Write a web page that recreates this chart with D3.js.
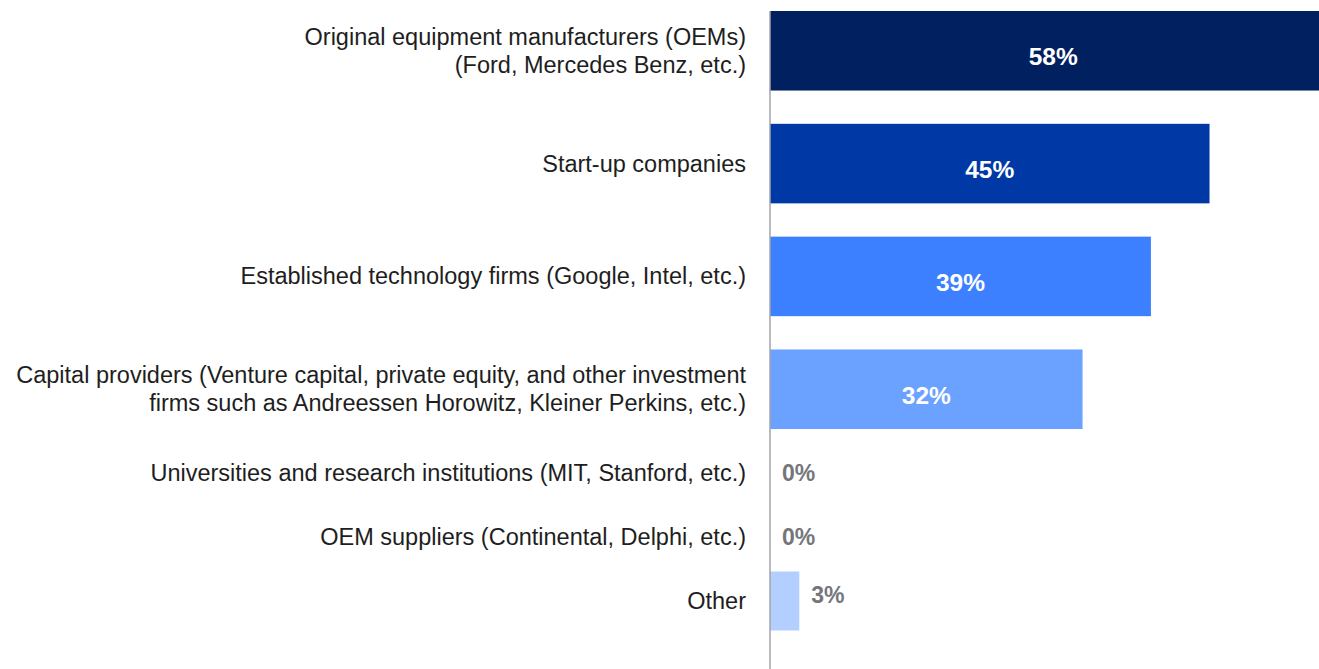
<!DOCTYPE html>
<html>
<head>
<meta charset="utf-8">
<script src="https://cdn.jsdelivr.net/npm/d3@7"></script>
<style>
  html, body { margin: 0; padding: 0; background: #ffffff; overflow: hidden; }
  svg { display: block; }
</style>
</head>
<body>
<svg id="chart" width="1319" height="669"></svg>
<script>
// Who will lead the development of autonomous vehicles? (share of respondents)
const majorCategories = [
  "Original equipment manufacturers (OEMs)\n(Ford, Mercedes Benz, etc.)",
  "Start-up companies",
  "Established technology firms (Google, Intel, etc.)",
  "Capital providers (Venture capital, private equity, and other investment\nfirms such as Andreessen Horowitz, Kleiner Perkins, etc.)"
];
const minorCategories = [
  "Universities and research institutions (MIT, Stanford, etc.)",
  "OEM suppliers (Continental, Delphi, etc.)",
  "Other"
];
const majorValues = [58, 45, 39, 32];
const minorValues = [0, 0, 3];

const barColors = ["#012060", "#0039a5", "#3d80ff", "#6ba1ff", "#b3cfff", "#b3cfff", "#b3cfff"];

const width = 1319, height = 669;
const svg = d3.select("#chart");

const categories = majorCategories.concat(minorCategories);
const values = majorValues.concat(minorValues);
const rows = categories.map((c, i) => ({ category: c, value: values[i], major: i < majorCategories.length }));

const color = d3.scaleOrdinal().domain(categories).range(barColors);

// Horizontal value scale; the axis sits at x(0)
const x = d3.scaleLinear().domain([0, 58]).range([770, 1336.5]);

// Large rows for the leading answers, compact rows for the rest
const yMajor = d3.scaleBand().domain(majorCategories).range([11, 429]).paddingInner(0.295).paddingOuter(0);
const yMinor = d3.scaleBand().domain(minorCategories).range([444, 630.5]).paddingInner(0.075).paddingOuter(0);
const yScale = d => d.major ? yMajor : yMinor;
const bandTop = d => yScale(d)(d.category);
const bandH = d => yScale(d).bandwidth();
const bandMid = d => bandTop(d) + bandH(d) / 2;

const FONT = "'Liberation Sans', Arial, Helvetica, sans-serif";

// Bars
svg.append("g")
  .selectAll("rect")
  .data(rows.filter(d => d.value > 0))
  .join("rect")
  .attr("x", x(0))
  .attr("y", bandTop)
  .attr("width", d => x(d.value) - x(0))
  .attr("height", bandH)
  .attr("fill", d => color(d.category));

// Vertical baseline
svg.append("line")
  .attr("x1", x(0)).attr("x2", x(0))
  .attr("y1", yMajor.range()[0]).attr("y2", height)
  .attr("stroke", "#a3a3ab")
  .attr("stroke-width", 1.5);

// Category labels (multi-line where needed)
const lineH = 28;
const labelX = 746;
const labels = svg.append("g")
  .attr("font-family", FONT)
  .attr("font-size", 23.5)
  .attr("fill", "#1e1e1e")
  .attr("text-anchor", "end");

labels.selectAll("text")
  .data(rows)
  .join("text")
  .each(function (d) {
    const lines = d.category.split("\n");
    const t = d3.select(this);
    const y0 = bandMid(d) - (lines.length - 1) * lineH / 2;
    lines.forEach((ln, i) => {
      t.append("tspan")
        .attr("x", labelX)
        .attr("y", y0 + i * lineH)
        .attr("dominant-baseline", "central")
        .text(ln);
    });
  });

// Value labels: inside large bars in white, outside small bars in grey
const fmt = v => v + "%";
const vl = svg.append("g").attr("font-family", FONT).attr("font-weight", "bold");

vl.selectAll("text.inside")
  .data(rows.filter(d => d.major))
  .join("text")
  .attr("class", "inside")
  .attr("x", d => (x(0) + x(d.value)) / 2)
  .attr("y", d => bandMid(d) + 6)
  .attr("text-anchor", "middle")
  .attr("dominant-baseline", "central")
  .attr("font-size", 24.5)
  .attr("fill", "#ffffff")
  .text(d => fmt(d.value));

vl.selectAll("text.outside")
  .data(rows.filter(d => !d.major))
  .join("text")
  .attr("class", "outside")
  .attr("x", d => x(d.value) + 12)
  .attr("y", d => bandMid(d) - (d.value > 0 ? 6 : 0))
  .attr("text-anchor", "start")
  .attr("dominant-baseline", "central")
  .attr("font-size", 23)
  .attr("fill", "#74767b")
  .text(d => fmt(d.value));
</script>
</body>
</html>
